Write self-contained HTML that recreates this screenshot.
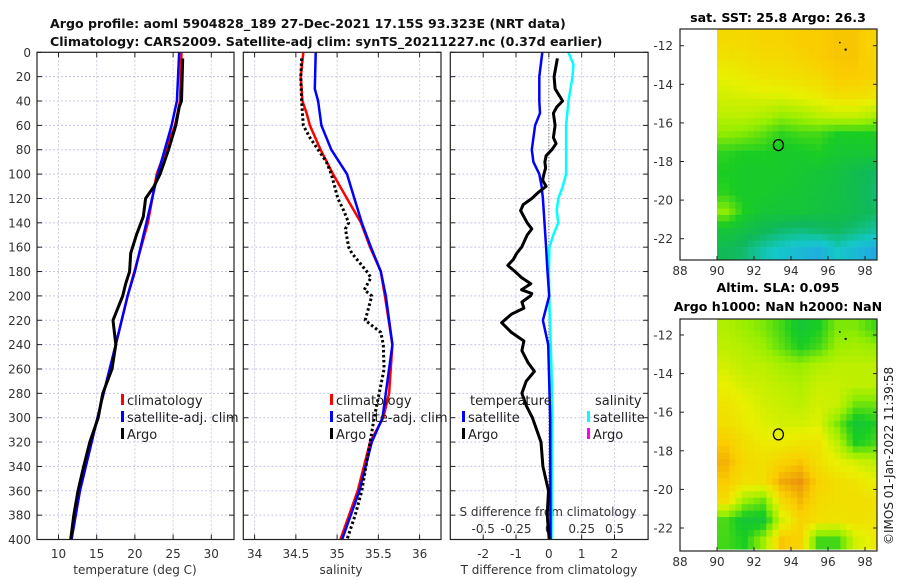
<!DOCTYPE html>
<html><head><meta charset="utf-8"><style>
body{margin:0;background:#fff;}
svg{display:block;font-family:"DejaVu Sans","Liberation Sans",sans-serif;}
</style></head><body>
<svg id="c" width="900" height="580" viewBox="0 0 900 580">
<g font-weight="bold" font-size="12.6" fill="#111">
<text x="50" y="28">Argo profile: aoml 5904828_189 27-Dec-2021 17.15S 93.323E (NRT data)</text>
<text x="50" y="46">Climatology: CARS2009. Satellite-adj clim: synTS_20211227.nc (0.37d earlier)</text>
</g>
<text x="778" y="22" text-anchor="middle" font-weight="bold" font-size="12.6">sat. SST: 25.8 Argo: 26.3</text>
<text x="778" y="292" text-anchor="middle" font-weight="bold" font-size="12.6">Altim. SLA: 0.095</text>
<text x="778" y="311" text-anchor="middle" font-weight="bold" font-size="12.6">Argo h1000: NaN h2000: NaN</text>
<text transform="translate(893,545) rotate(-90)" font-size="12" fill="#222">©IMOS 01-Jan-2022 11:39:58</text>
</svg>
<script>
// ---- data ----
const depthTicks=[0,20,40,60,80,100,120,140,160,180,200,220,240,260,280,300,320,340,360,380,400];
const tempTicks=[10,15,20,25,30];
const salTicks=[34,34.5,35,35.5,36];
const salTickLabels=["34","34.5","35","35.5","36"];
const diffTicks=[-2,-1,0,1,2];
const sdiffTicks=[-0.5,-0.25,0,0.25,0.5];
const sdiffTickLabels=["-0.5","-0.25","0","0.25","0.5"];

const climTDepth=[0,40,60,100,140,200,240,300,360,400];
const climT=[26.1,25.9,25.25,22.85,21.7,19.05,17.5,15.1,12.8,11.7];
const satTDepth=[0,40,60,80,100,140,180,200,240,300,360,400];
const satT=[25.8,25.5,24.8,23.9,23.0,21.5,20.0,19.05,17.5,15.1,12.8,11.7];
const argoTDepth=[5,40,45,60,80,100,110,120,135,150,165,180,190,200,220,240,260,280,300,320,340,360,380,400];
const argoT=[26.26,26.1,25.8,25.35,24.4,23.3,22.5,21.4,21.1,20.2,19.45,19.3,18.8,18.4,17.13,17.5,17.0,15.8,15.2,14.1,13.3,12.55,12.0,11.6];

const climSDepth=[0,20,40,50,60,80,100,120,140,160,180,200,240,280,300,320,360,400];
const climS=[34.59,34.56,34.58,34.63,34.67,34.80,34.95,35.12,35.29,35.40,35.53,35.58,35.67,35.63,35.56,35.40,35.25,35.04];
const satSDepth=[0,30,40,60,80,100,120,140,160,180,200,240,300,320,360,400];
const satS=[34.74,34.73,34.77,34.81,34.93,35.12,35.21,35.30,35.41,35.53,35.59,35.67,35.55,35.42,35.27,35.06];
const argoSDepth=[5,20,40,60,70,80,90,100,110,120,130,140,145,160,165,180,185,195,200,220,230,240,260,280,300,320,340,360,380,400];
const argoS=[34.57,34.56,34.57,34.59,34.67,34.77,34.87,34.93,34.97,35.01,35.08,35.14,35.10,35.14,35.18,35.36,35.41,35.33,35.42,35.34,35.53,35.56,35.57,35.51,35.45,35.40,35.35,35.30,35.22,35.12];

const satTdDepth=[0,20,40,50,60,80,90,100,110,120,160,180,200,220,240,300,400];
const satTd=[-0.2,-0.29,-0.29,-0.27,-0.42,-0.52,-0.47,-0.29,-0.22,-0.18,-0.085,-0.04,0.01,-0.18,-0.02,0.04,0.05];
const satSdDepth=[0,10,20,40,60,80,100,110,120,130,140,150,160,180,200,260,300,400];
const satSd=[0.149,0.187,0.18,0.15,0.131,0.131,0.131,0.106,0.072,0.06,0.072,0.034,0.004,0.0,0.003,0.02,0.026,0.02];
const argoTdDepth=[5,20,30,40,45,50,60,70,75,80,85,90,95,100,105,110,115,120,125,130,140,145,150,160,165,170,175,180,185,190,195,198,200,205,210,215,222,230,237,245,255,262,270,280,290,300,310,320,340,360,380,400];
const argoTd=[0.26,0.16,0.19,0.42,0.24,0.14,0.19,0.14,0.22,0.09,-0.085,-0.12,-0.1,-0.15,-0.19,-0.085,-0.32,-0.52,-0.78,-0.86,-0.66,-0.52,-0.66,-0.83,-0.98,-1.08,-1.25,-1.03,-0.83,-0.55,-0.83,-0.52,-0.56,-0.82,-0.76,-1.14,-1.44,-1.14,-0.76,-0.82,-0.63,-0.44,-0.69,-0.82,-0.69,-0.5,-0.37,-0.24,-0.18,-0.01,-0.05,0.01];

const lonTicks=[88,90,92,94,96,98];
const latTicks=[-12,-14,-16,-18,-20,-22];
const gridLon0=90, gridLat0=-11.1;
const sstGrid=[
[0.88,0.88,0.9,0.9,0.92,0.92,0.93,0.93,0.9],
[0.85,0.86,0.88,0.88,0.9,0.92,0.93,0.93,0.9],
[0.8,0.82,0.84,0.85,0.86,0.88,0.92,0.92,0.9],
[0.76,0.77,0.78,0.78,0.8,0.82,0.86,0.86,0.84],
[0.72,0.72,0.7,0.66,0.68,0.72,0.74,0.74,0.7],
[0.64,0.62,0.58,0.52,0.55,0.55,0.5,0.5,0.5],
[0.52,0.5,0.5,0.48,0.48,0.5,0.46,0.45,0.45],
[0.5,0.48,0.48,0.48,0.46,0.44,0.42,0.38,0.34],
[0.52,0.48,0.48,0.46,0.45,0.43,0.41,0.38,0.32],
[0.64,0.5,0.45,0.44,0.44,0.42,0.4,0.38,0.34],
[0.44,0.4,0.36,0.32,0.3,0.32,0.34,0.3,0.26],
[0.36,0.32,0.24,0.18,0.14,0.1,0.2,0.14,0.08]];
const slaGrid=[
[0.7,0.66,0.62,0.55,0.45,0.5,0.62,0.62,0.55],
[0.72,0.7,0.66,0.58,0.5,0.55,0.66,0.68,0.65],
[0.76,0.72,0.72,0.68,0.66,0.7,0.72,0.72,0.72],
[0.8,0.76,0.74,0.72,0.7,0.74,0.74,0.72,0.72],
[0.84,0.8,0.76,0.74,0.72,0.76,0.74,0.6,0.6],
[0.86,0.82,0.78,0.76,0.76,0.78,0.62,0.45,0.5],
[0.92,0.86,0.82,0.82,0.84,0.84,0.72,0.5,0.55],
[0.96,0.88,0.86,0.9,0.93,0.86,0.8,0.76,0.72],
[0.92,0.86,0.86,0.97,1.0,0.9,0.86,0.84,0.8],
[0.86,0.66,0.6,0.88,0.95,0.88,0.86,0.86,0.86],
[0.56,0.45,0.45,0.76,0.9,0.86,0.84,0.86,0.84],
[0.55,0.5,0.66,0.93,0.9,0.55,0.55,0.76,0.82]];
const argoLon=93.32, argoLat=-17.15;

// ---- drawing ----
const svg=document.getElementById('c');
const NS='http://www.w3.org/2000/svg';
function mk(tag,attrs,parent){const e=document.createElementNS(NS,tag);for(const k in attrs)e.setAttribute(k,attrs[k]);(parent||svg).appendChild(e);return e;}
const Y0=52.3,Y1=539.5;
const yD=d=>Y0+(d/400)*(Y1-Y0);
function lin(d0,d1,r0,r1){return v=>r0+(v-d0)/(d1-d0)*(r1-r0);}
const xT=lin(10,30,58.5,211.3), xS=lin(34,36,254.6,419.6), xD=lin(-2,2,483.2,614.5), xSD=lin(-0.5,0.5,483.2,614.5);
const panels=[[37,234],[243.3,441],[450.3,648.1]];

function pathOf(xs,ds,fx){return xs.map((v,i)=>(i?'L':'M')+fx(v).toFixed(1)+','+yD(ds[i]).toFixed(1)).join('');}

panels.forEach((p,pi)=>{
  const g=mk('g',{});
  
  
  const xt = pi==0?tempTicks.map(xT):pi==1?salTicks.map(xS):diffTicks.map(xD);
  depthTicks.forEach(d=>{const l=mk('line',{x1:p[0],x2:p[1],y1:yD(d),y2:yD(d),stroke:'#c4c8e8','stroke-width':1,'stroke-dasharray':'2,2'},g);
    
    mk('line',{x1:p[0],x2:p[0]+5,y1:yD(d),y2:yD(d),stroke:'#222'},g);mk('line',{x1:p[1]-5,x2:p[1],y1:yD(d),y2:yD(d),stroke:'#222'},g);});
  xt.forEach(x=>{const l=mk('line',{x1:x,x2:x,y1:Y0,y2:Y1,stroke:'#d0cce0','stroke-width':1,'stroke-dasharray':'2,2'},g);
    
    mk('line',{x1:x,x2:x,y1:Y1-5,y2:Y1,stroke:'#222'},g);mk('line',{x1:x,x2:x,y1:Y0,y2:Y0+5,stroke:'#222'},g);});
});
depthTicks.forEach(d=>{const t=mk('text',{x:31,y:yD(d)+4.5,'text-anchor':'end','font-size':12,fill:'#333'});t.textContent=d;
  });
function xl(x,y,s,name){const t=mk('text',{x:x,y:y,'text-anchor':'middle','font-size':12,fill:'#333'});t.textContent=s;
  return t;}
tempTicks.forEach(v=>xl(xT(v),558,v,'temp-tick-label'));
salTicks.forEach((v,i)=>xl(xS(v),558,salTickLabels[i],'salinity-tick-label'));
diffTicks.forEach(v=>xl(xD(v),558,v,'tdiff-tick-label'));
sdiffTicks.forEach((v,i)=>xl(xSD(v),533,sdiffTickLabels[i],'sdiff-tick-label'));
xl(135,574,'temperature (deg C)','temperature-axis-title');
xl(341,574,'salinity','salinity-axis-title');
xl(549,574,'T difference from climatology','tdiff-axis-title');
xl(548,516,'S difference from climatology','sdiff-axis-title');

const zl=mk('line',{x1:xD(0),x2:xD(0),y1:Y0,y2:yD(365),stroke:'#555','stroke-width':1,'stroke-dasharray':'1,2'});


function line(xs,ds,fx,color,w,name,dash){const e=mk('path',{d:pathOf(xs,ds,fx),fill:'none',stroke:color,'stroke-width':w,'stroke-linejoin':'round'});
  if(dash)e.setAttribute('stroke-dasharray',dash);
  }
line(climT,climTDepth,xT,'#f00',2.5,'clim-temperature-line');
line(satT,satTDepth,xT,'#00f',2.5,'sat-temperature-line');
line(argoT,argoTDepth,xT,'#000',3,'argo-temperature-line');
line(climS,climSDepth,xS,'#f00',2.5,'clim-salinity-line');
line(satS,satSDepth,xS,'#00f',2.5,'sat-salinity-line');
line(argoS,argoSDepth,xS,'#000',3,'argo-salinity-line','2.5,2.5');
line(satSd,satSdDepth,xSD,'#0ff',2.5,'sat-salinity-diff-line');
line(satTd,satTdDepth,xD,'#00f',2.5,'sat-temperature-diff-line');
line(argoTd,argoTdDepth,xD,'#000',3,'argo-temperature-diff-line');

panels.forEach(p=>{const r=mk('rect',{x:p[0],y:Y0,width:p[1]-p[0],height:Y1-Y0,fill:'none',stroke:'#222','stroke-width':1.2});
  });

function leg(x,y,color,label,name){const g=mk('g',{});
  mk('rect',{x:x,y:y-11,width:3,height:11,fill:color},g);
  const t=mk('text',{x:x+6,y:y,'font-size':13,fill:'#222'},g);t.textContent=label;}
leg(121,405,'#f00','climatology','legend-climatology-t');
leg(121,422,'#00f','satellite-adj. clim','legend-satellite-t');
leg(121,439,'#000','Argo','legend-argo-t');
leg(330,405,'#f00','climatology','legend-climatology-s');
leg(330,422,'#00f','satellite-adj. clim','legend-satellite-s');
leg(330,439,'#000','Argo','legend-argo-s');
{const t=mk('text',{x:470,y:405,'font-size':13,fill:'#222'});t.textContent='temperature';}
{const t=mk('text',{x:595,y:405,'font-size':13,fill:'#222'});t.textContent='salinity';}
leg(462,422,'#00f','satellite','legend-satellite-tdiff');
leg(462,439,'#000','Argo','legend-argo-tdiff');
leg(587,422,'#0ff','satellite','legend-satellite-sdiff');
leg(587,439,'#f0f','Argo','legend-argo-sdiff');

// maps
const stops=[[0,[40,150,240]],[0.2,[20,200,200]],[0.35,[16,185,90]],[0.5,[25,205,35]],[0.65,[150,238,0]],[0.8,[232,240,0]],[0.92,[250,205,0]],[1,[235,150,10]]];
function cmap(v){v=Math.max(0,Math.min(1,v));for(let i=1;i<stops.length;i++){if(v<=stops[i][0]){const a=stops[i-1],b=stops[i],f=(v-a[0])/(b[0]-a[0]);
  const c=a[1].map((q,k)=>Math.round(q+(b[1][k]-q)*f));return 'rgb('+c.join(',')+')';}}return 'rgb(235,150,10)';}
function sample(grid,r,c){
  const R=grid.length,C=grid[0].length;
  r=Math.max(0,Math.min(R-1,r));c=Math.max(0,Math.min(C-1,c));
  const r0=Math.floor(r),c0=Math.floor(c),r1=Math.min(R-1,r0+1),c1=Math.min(C-1,c0+1),fr=r-r0,fc=c-c0;
  return grid[r0][c0]*(1-fr)*(1-fc)+grid[r0][c1]*(1-fr)*fc+grid[r1][c0]*fr*(1-fc)+grid[r1][c1]*fr*fc;}
function drawMap(grid,top,bot,lat12y,name){
  const g=mk('g',{});
  const L=680,R=877;const xL=lin(88,98,680,865);const yL=lat=>lat12y+(-12-lat)*19.3;
  const sub=3, step=1/sub;
  for(let ri=0;ri<grid.length*sub;ri++){for(let ci=0;ci<grid[0].length*sub;ci++){
    const v=sample(grid,(ri+0.5)*step-0.5,(ci+0.5)*step-0.5);
    const x0=xL(gridLon0+ci*step),x1=Math.min(R,xL(gridLon0+(ci+1)*step));
    const y0=Math.max(top,yL(gridLat0-ri*step)),y1=Math.min(bot,yL(gridLat0-(ri+1)*step));
    if(x1<=x0||y1<=y0)continue;
    const r=mk('rect',{x:x0.toFixed(1),y:y0.toFixed(1),width:(x1-x0+0.4).toFixed(1),height:(y1-y0+0.4).toFixed(1),fill:cmap(v)},g);
    
  }}
  mk('rect',{x:L,y:top,width:R-L,height:bot-top,fill:'none',stroke:'#222','stroke-width':1.2},g);
  lonTicks.forEach(v=>{mk('line',{x1:xL(v),x2:xL(v),y1:bot-4,y2:bot,stroke:'#222'},g);
    const t=mk('text',{x:xL(v),y:bot+15,'text-anchor':'middle','font-size':12,fill:'#333'},g);t.textContent=v;
    });
  latTicks.forEach(v=>{mk('line',{x1:L,x2:L+4,y1:yL(v),y2:yL(v),stroke:'#222'},g);mk('line',{x1:R-4,x2:R,y1:yL(v),y2:yL(v),stroke:'#222'},g);
    const t=mk('text',{x:673,y:yL(v)+4.5,'text-anchor':'end','font-size':12,fill:'#333'},g);t.textContent=v;
    });
  const c=mk('ellipse',{cx:xL(argoLon),cy:yL(argoLat),rx:5,ry:5.5,fill:'none',stroke:'#000','stroke-width':1.3},g);
  
  mk('rect',{x:xL(96.6),y:yL(-11.8),width:1.5,height:1.5,fill:'#000'},g);
  mk('rect',{x:xL(96.9),y:yL(-12.15),width:2,height:2,fill:'#000'},g);
}
drawMap(sstGrid,29,260,45.7,'sst-map');
drawMap(slaGrid,319,551,335,'sla-map');
</script>
</body></html>
